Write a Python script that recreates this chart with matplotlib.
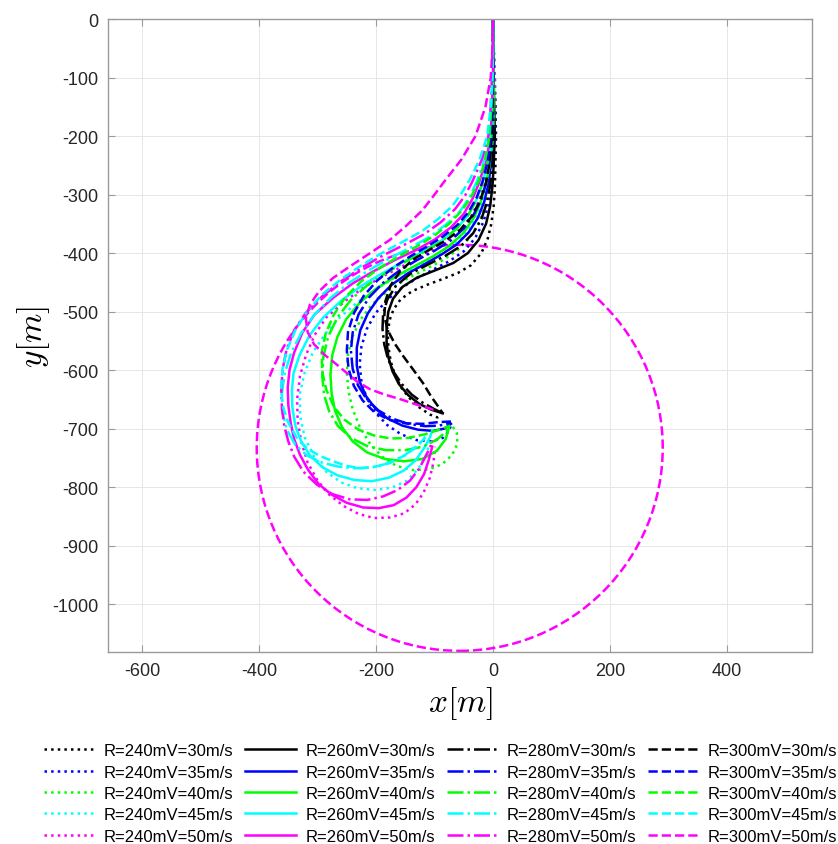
import numpy as np
import matplotlib.pyplot as plt
from matplotlib.patches import Circle

# trajectories, (x, y) in metres
r240_v30 = [(0, 0), (1, -50), (2, -100), (4, -150), (5, -200), (4, -250), (3, -290), (1, -320), (-3, -350),
            (-9, -375), (-20, -400), (-38, -421), (-60, -434), (-85, -444), (-112, -454), (-138, -465),
            (-158, -479), (-170, -496), (-177, -515), (-180, -537), (-179, -560), (-175, -585), (-168, -608),
            (-157, -630), (-143, -648), (-126, -664), (-108, -676), (-95, -681), (-88, -676)]
r240_v35 = [(0, 0), (1, -50), (3, -100), (4, -150), (4, -200), (1, -245), (-3, -285), (-8, -318), (-17, -348),
            (-31, -375), (-50, -397), (-75, -414), (-102, -428), (-130, -443), (-157, -460), (-181, -480),
            (-201, -503), (-216, -530), (-225, -560), (-228, -590), (-225, -620), (-216, -648), (-201, -673),
            (-181, -694), (-157, -710), (-130, -720), (-105, -722), (-86, -716), (-75, -704), (-72, -694)]
r240_v40 = [(0, 0), (1, -50), (3, -100), (3, -150), (3, -200), (-1, -245), (-6, -285), (-13, -318), (-24, -348),
            (-40, -374), (-62, -396), (-89, -414), (-120, -430), (-151, -446), (-180, -465), (-206, -487),
            (-226, -513), (-240, -542), (-248, -573), (-250, -605), (-247, -637), (-240, -667), (-228, -697),
            (-211, -725), (-190, -748), (-165, -764), (-137, -771), (-110, -770), (-87, -761), (-70, -745),
            (-61, -726), (-62, -708), (-70, -695)]
r240_v45 = [(0, 0), (1, -50), (3, -100), (3, -150), (2, -200), (-3, -245), (-10, -283), (-18, -313), (-30, -340),
            (-48, -366), (-72, -390), (-101, -409), (-135, -425), (-168, -442), (-200, -462), (-233, -485),
            (-262, -510), (-287, -538), (-308, -570), (-322, -604), (-330, -640), (-330, -678), (-322, -715),
            (-306, -748), (-285, -774), (-260, -792), (-232, -802), (-202, -805), (-173, -801), (-147, -789),
            (-127, -768), (-114, -744), (-107, -720)]
r240_v50 = [(0, 0), (1, -50), (3, -100), (2, -150), (1, -200), (-5, -243), (-14, -282), (-24, -311), (-38, -338),
            (-58, -363), (-85, -385), (-116, -403), (-150, -420), (-185, -438), (-220, -458), (-254, -483),
            (-285, -510), (-305, -540), (-320, -575), (-330, -610), (-335, -650), (-334, -687), (-328, -722),
            (-317, -758), (-300, -789), (-280, -813), (-256, -832), (-230, -846), (-203, -853), (-176, -852),
            (-152, -845), (-133, -830), (-119, -810), (-108, -784), (-102, -758), (-99, -731)]

r260_v30 = [(0, 0), (0, -50), (1, -100), (2, -150), (3, -200), (1, -250), (-1, -285), (-5, -320), (-12, -350),
            (-25, -378), (-43, -400), (-68, -417), (-100, -430), (-130, -442), (-155, -458), (-171, -478),
            (-179, -500), (-182, -525), (-182, -552), (-179, -578), (-172, -602), (-161, -624), (-145, -643),
            (-126, -658), (-105, -668), (-86, -674)]
r260_v35 = [(0, 0), (0, -50), (1, -100), (1, -150), (1, -200), (-3, -245), (-8, -282), (-15, -312), (-26, -340),
            (-42, -365), (-63, -386), (-89, -403), (-117, -419), (-146, -435), (-173, -454), (-196, -477),
            (-214, -503), (-227, -532), (-233, -562), (-233, -592), (-228, -620), (-217, -645), (-201, -666),
            (-180, -683), (-155, -695), (-128, -702), (-102, -704), (-83, -700), (-72, -692)]
r260_v40 = [(0, 0), (0, -50), (1, -100), (1, -150), (0, -200), (-5, -245), (-12, -282), (-21, -312), (-33, -340),
            (-51, -366), (-75, -388), (-103, -406), (-135, -423), (-168, -441), (-200, -461), (-228, -485),
            (-251, -513), (-266, -543), (-275, -575), (-278, -608), (-276, -640), (-270, -670), (-258, -698),
            (-240, -722), (-215, -741), (-185, -752), (-152, -756), (-121, -752), (-96, -738), (-81, -718),
            (-75, -697)]
r260_v45 = [(0, 0), (0, -50), (0, -100), (-1, -150), (-2, -200), (-8, -243), (-18, -280), (-28, -308), (-42, -335),
            (-63, -359), (-90, -380), (-121, -398), (-155, -416), (-190, -435), (-225, -456), (-259, -481),
            (-290, -510), (-314, -541), (-331, -575), (-341, -605), (-344, -635), (-343, -665), (-338, -695),
            (-328, -722), (-313, -746), (-292, -766), (-266, -780), (-237, -788), (-207, -790), (-178, -784),
            (-153, -772), (-132, -754), (-117, -732), (-108, -715), (-104, -703)]
r260_v50 = [(0, 0), (0, -50), (0, -100), (-2, -150), (-4, -200), (-12, -242), (-24, -280), (-35, -307), (-50, -333),
            (-72, -356), (-100, -377), (-132, -395), (-168, -412), (-204, -431), (-240, -452), (-274, -477),
            (-305, -505), (-326, -536), (-340, -570), (-348, -600), (-351, -630), (-350, -660), (-346, -690),
            (-340, -718), (-330, -745), (-316, -771), (-298, -795), (-276, -813), (-250, -827), (-222, -835),
            (-195, -836), (-170, -831), (-148, -818), (-131, -800), (-118, -778), (-110, -754), (-104, -731)]

r280_v30 = [(0, 0), (0, -50), (0, -100), (0, -150), (1, -200), (-1, -250), (-5, -285), (-11, -315), (-20, -342),
            (-34, -366), (-55, -388), (-82, -405), (-112, -420), (-142, -436), (-166, -456), (-181, -480),
            (-188, -505), (-189, -530), (-186, -556), (-180, -580), (-170, -603), (-156, -624), (-139, -642),
            (-120, -656), (-102, -666), (-86, -674)]
r280_v35 = [(0, 0), (0, -50), (0, -100), (-1, -150), (-2, -200), (-6, -245), (-12, -280), (-20, -308), (-33, -334),
            (-50, -358), (-73, -379), (-100, -396), (-130, -412), (-160, -430), (-188, -451), (-212, -476),
            (-230, -505), (-240, -536), (-243, -567), (-240, -598), (-231, -626), (-216, -650), (-196, -669),
            (-172, -683), (-145, -692), (-116, -696), (-92, -695), (-72, -690)]
r280_v40 = [(0, 0), (0, -50), (0, -100), (-1, -150), (-3, -200), (-9, -245), (-18, -280), (-28, -308), (-42, -334),
            (-62, -358), (-88, -380), (-118, -398), (-150, -415), (-183, -434), (-215, -455), (-243, -480),
            (-266, -510), (-282, -543), (-290, -577), (-292, -610), (-289, -642), (-280, -671), (-265, -696),
            (-243, -716), (-215, -730), (-183, -737), (-150, -737), (-120, -731), (-96, -719), (-80, -705),
            (-74, -696)]
r280_v45 = [(0, 0), (0, -50), (-1, -100), (-3, -150), (-6, -200), (-15, -242), (-28, -278), (-40, -304), (-56, -328),
            (-80, -351), (-108, -372), (-140, -390), (-175, -408), (-210, -428), (-245, -450), (-277, -476),
            (-305, -505), (-328, -537), (-345, -570), (-356, -605), (-361, -640), (-360, -673), (-352, -703),
            (-338, -728), (-318, -746), (-293, -758), (-265, -765), (-235, -768), (-205, -766), (-177, -759),
            (-153, -747), (-132, -731), (-116, -715)]
r280_v50 = [(0, 0), (-1, -50), (-2, -100), (-4, -150), (-8, -200), (-19, -240), (-35, -277), (-48, -302), (-65, -325),
            (-89, -347), (-118, -368), (-152, -386), (-188, -404), (-223, -424), (-258, -447), (-291, -473),
            (-320, -502), (-340, -532), (-353, -565), (-360, -600), (-362, -635), (-361, -665), (-357, -695),
            (-350, -722), (-340, -748), (-324, -774), (-301, -796), (-275, -812), (-245, -821), (-215, -822),
            (-188, -816), (-163, -805), (-142, -789), (-126, -768), (-114, -745), (-106, -728), (-104, -720)]

r300_v30 = [(0, 0), (0, -50), (0, -100), (-1, -150), (-2, -200), (-6, -245), (-12, -280), (-22, -310), (-36, -337),
            (-56, -360), (-80, -378), (-108, -394), (-135, -410), (-158, -430), (-175, -455), (-184, -482),
            (-186, -508), (-180, -532), (-168, -555), (-153, -577), (-136, -600), (-120, -622), (-106, -645),
            (-94, -662), (-86, -674)]
r300_v35 = [(0, 0), (0, -50), (0, -100), (-2, -150), (-4, -200), (-9, -243), (-18, -278), (-28, -305), (-42, -330),
            (-61, -352), (-86, -372), (-113, -389), (-142, -406), (-171, -425), (-198, -447), (-221, -473),
            (-238, -503), (-248, -535), (-250, -567), (-247, -598), (-238, -627), (-223, -652), (-203, -672),
            (-178, -685), (-150, -691), (-120, -692), (-94, -689), (-72, -688)]
r300_v40 = [(0, 0), (0, -50), (-1, -100), (-3, -150), (-6, -200), (-14, -243), (-25, -278), (-37, -303), (-53, -327),
            (-74, -349), (-100, -370), (-129, -388), (-160, -405), (-193, -425), (-225, -448), (-252, -475),
            (-272, -505), (-286, -537), (-293, -570), (-292, -603), (-285, -634), (-272, -663), (-254, -685),
            (-230, -702), (-203, -712), (-175, -717), (-145, -716), (-117, -710), (-92, -702), (-73, -695)]
r300_v45 = [(0, 0), (0, -50), (-1, -100), (-4, -150), (-10, -200), (-23, -240), (-40, -275), (-54, -298), (-70, -320),
            (-94, -342), (-122, -363), (-155, -381), (-190, -400), (-225, -421), (-260, -445), (-292, -471),
            (-318, -500), (-338, -532), (-352, -565), (-360, -598), (-362, -630), (-360, -660), (-350, -690),
            (-336, -715), (-318, -734), (-296, -747), (-273, -756), (-250, -764), (-225, -768), (-200, -765),
            (-175, -758), (-151, -746), (-130, -731), (-115, -714)]
r300_v50 = [(0, 0), (-1, -50), (-4, -100), (-13, -150), (-30, -200), (-54, -240), (-82, -276), (-100, -300),
            (-121, -327), (-148, -353), (-177, -378), (-210, -400), (-245, -423), (-274, -443), (-297, -465),
            (-313, -488), (-320, -512), (-317, -535), (-306, -556), (-288, -574), (-268, -590), (-250, -605),
            (-232, -620), (-210, -633), (-185, -642), (-158, -650), (-131, -659), (-110, -665), (-97, -670)]

# dashed circle
circle_center = (-57, -733)
circle_radius = 347

r_values = [240, 260, 280, 300]
v_values = [30, 35, 40, 45, 50]
curves = {
    240: [r240_v30, r240_v35, r240_v40, r240_v45, r240_v50],
    260: [r260_v30, r260_v35, r260_v40, r260_v45, r260_v50],
    280: [r280_v30, r280_v35, r280_v40, r280_v45, r280_v50],
    300: [r300_v30, r300_v35, r300_v40, r300_v45, r300_v50],
}
styles = {240: ':', 260: '-', 280: '-.', 300: '--'}
colors = ['#000000', '#0000ff', '#00ff00', '#00ffff', '#ff00ff']

plt.rcParams['font.family'] = ['Liberation Sans', 'DejaVu Sans']
plt.rcParams['mathtext.fontset'] = 'cm'
plt.rcParams['axes.unicode_minus'] = False

fig = plt.figure(figsize=(8.38, 8.45), dpi=100)
ax = fig.add_axes([0.1289, 0.2272, 0.8401, 0.7491])

handles = []
for r in r_values:
    for v, pts, c in zip(v_values, curves[r], colors):
        pts = np.array(pts)
        ln, = ax.plot(pts[:, 0], pts[:, 1], ls=styles[r], color=c, lw=1.8,
                      label=f'R={r}mV={v}m/s')
        handles.append(ln)

ax.add_patch(Circle(circle_center, circle_radius, fill=False, ls='--',
                    color='#ff00ff', lw=1.8))

ax.set_xlim(-658, 545)
ax.set_ylim(-1082, 0)
ax.set_aspect('equal')
ax.set_xticks(np.arange(-600, 401, 200))
ax.set_yticks(np.arange(-1000, 1, 100))
ax.grid(True, color='#e6e6e6', lw=0.7)
ax.set_axisbelow(True)
for s in ax.spines.values():
    s.set_color('#9a9a9a')
    s.set_linewidth(1.0)
ax.tick_params(direction='in', top=True, right=True, length=5, color='#9a9a9a',
               labelsize=13, labelcolor='#262626', pad=7)

ax.set_xlabel('$x[m]$', fontsize=24, labelpad=4)
ax.set_ylabel('$y[m]$', fontsize=24, labelpad=0)

fig.legend(handles=handles, ncol=4, loc='center', bbox_to_anchor=(0.526, 0.0598),
           frameon=False, fontsize=12, handlelength=3.05, handletextpad=0.55,
           columnspacing=0.7, labelspacing=0.38, borderaxespad=0)

fig.savefig('out.png', dpi=100)
